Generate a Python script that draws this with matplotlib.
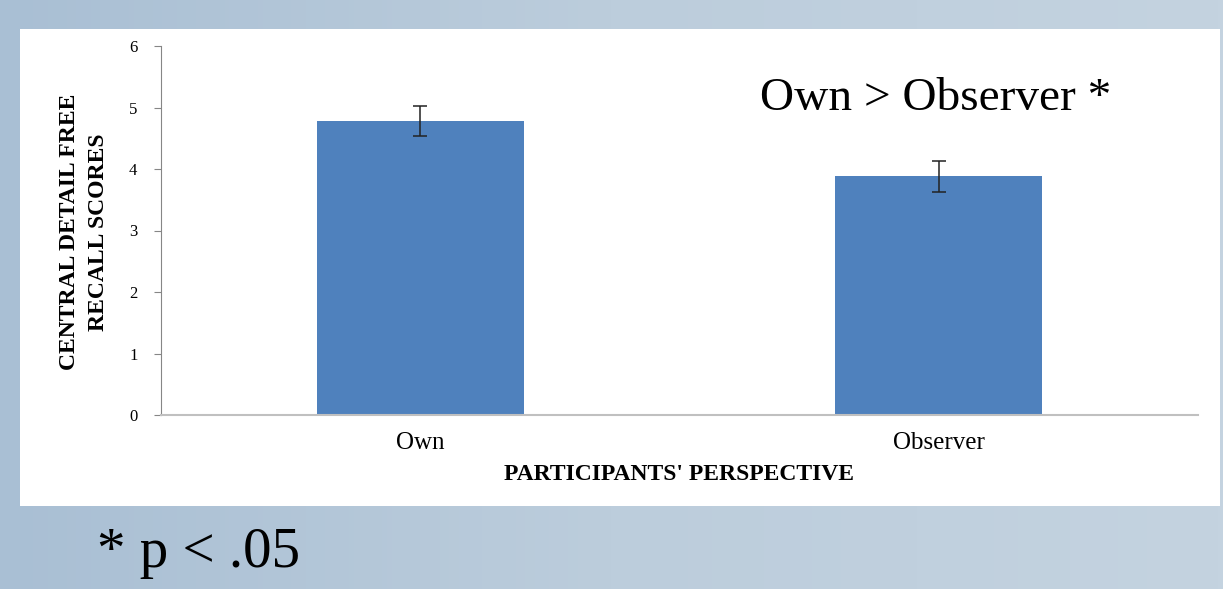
import matplotlib.pyplot as plt
from matplotlib.colors import LinearSegmentedColormap
import numpy as np

categories = ['Own', 'Observer']
scores = [4.78, 3.88]
errors = [0.25, 0.25]
y_ticks = [0, 1, 2, 3, 4, 5, 6]

plt.rcParams['font.family'] = ['Liberation Serif', 'DejaVu Serif']

fig = plt.figure(figsize=(12.23, 5.89), dpi=100)

# slide background: soft blue gradient, darker on the left
bg = fig.add_axes([0, 0, 1, 1], zorder=-10)
grad = np.linspace(0, 1, 256).reshape(1, -1)
cmap = LinearSegmentedColormap.from_list('slide', ['#a9bfd4', '#bccddc', '#c4d3e0'])
bg.imshow(grad, aspect='auto', cmap=cmap, extent=[0, 1, 0, 1])
bg.set_xlim(0, 1)
bg.set_ylim(0, 1)
bg.axis('off')

# white chart panel
panel = plt.Rectangle((20 / 1223, 1 - 506 / 589), 1200 / 1223, 477 / 589,
                      transform=fig.transFigure, facecolor='white', edgecolor='none', zorder=-5)
fig.patches.append(panel)

ax = fig.add_axes([161 / 1223, 1 - 415 / 589, 1037 / 1223, 369 / 589])
ax.patch.set_alpha(0)
x = np.arange(len(categories))
ax.bar(x, scores, width=0.4, color='#4f81bd', zorder=2)
ax.errorbar(x, scores, yerr=errors, fmt='none', ecolor='#222222', elinewidth=1.1,
            capsize=5, capthick=1.1, zorder=3)

ax.set_xlim(-0.5, 1.5)
ax.set_ylim(0, 6)
ax.set_yticks(y_ticks)
ax.set_yticklabels([str(t) for t in y_ticks], fontsize=12)
ax.set_xticks(x)
ax.set_xticklabels(categories, fontsize=18)
ax.tick_params(axis='x', length=0, pad=12)
ax.tick_params(axis='y', length=5, color='#868686', pad=12)
for s in ['top', 'right']:
    ax.spines[s].set_visible(False)
ax.spines['left'].set_color('#868686')
ax.spines['bottom'].set_color('#c0c0c0')
ax.spines['bottom'].set_linewidth(1.5)

fig.text(679 / 1223, 1 - 474 / 589, "PARTICIPANTS' PERSPECTIVE", fontsize=17,
         fontweight='bold', ha='center', va='center')
fig.text(84 / 1223, 1 - 232 / 589, 'CENTRAL DETAIL FREE\nRECALL SCORES', fontsize=17,
         fontweight='bold', rotation=90, ha='center', va='center', multialignment='center',
         linespacing=1.55)

fig.text(760 / 1223, 1 - 99 / 589, 'Own > Observer *', fontsize=34, va='center', ha='left')
fig.text(97 / 1223, 1 - 553 / 589, '* p < .05', fontsize=41, va='center', ha='left')

fig.savefig('out.png', dpi=100)
